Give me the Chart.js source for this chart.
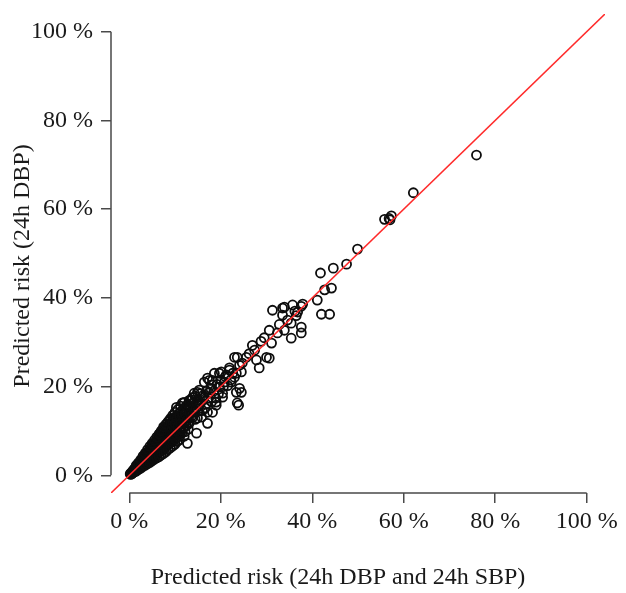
<!DOCTYPE html>
<html>
<head>
<meta charset="utf-8">
<script src="https://cdn.jsdelivr.net/npm/chart.js@4"></script>
<style>
  html, body { margin: 0; padding: 0; background: #fff; }
  #wrap { width: 626px; height: 593px; }
</style>
</head>
<body>
<div id="wrap"><canvas id="chart" width="626" height="593"></canvas></div>
<script>
// Predicted risk (%), x = 24h DBP and 24h SBP, y = 24h DBP
const tickValues = [0, 20, 40, 60, 80, 100];
const axisMin = -4;
const axisMax = 104;
const xTitle = 'Predicted risk (24h DBP and 24h SBP)';
const yTitle = 'Predicted risk (24h DBP)';

// dense core near the origin
const coreLow = [
  [0.2,0.3],[0.3,0.2],[0.4,0.5],[0.5,0.3],[0.6,0.7],[0.6,0.4],[0.7,0.9],[0.8,0.6],[0.9,1.1],[0.9,0.7],
  [1.0,0.9],[1.1,1.4],[1.1,0.8],[1.2,1.1],[1.3,1.6],[1.3,0.9],[1.4,1.3],[1.5,1.9],[1.5,1.1],[1.6,1.5],
  [1.7,2.1],[1.7,1.2],[1.8,1.7],[1.9,2.4],[1.9,1.4],[2.0,2.0],[2.1,2.6],[2.1,1.5],[2.2,2.2],[2.3,2.9],
  [2.3,1.7],[2.4,2.4],[2.5,3.1],[2.5,1.9],[2.6,2.6],[2.7,3.3],[2.7,2.0],[2.8,2.8],[2.9,3.6],[2.9,2.2],
  [3.0,3.0],[1.5,2.2],[1.5,0.9],[2.0,2.8],[2.0,1.3],[2.5,3.5],[2.5,1.6]
];

const coreMid = [
  [3.1,3.9],[3.1,2.4],[3.2,3.2],[3.3,4.2],[3.3,2.6],[3.4,3.5],[3.5,4.5],[3.5,2.7],[3.6,3.7],[3.7,4.8],
  [3.7,2.9],[3.8,4.0],[3.9,5.0],[3.9,3.1],[4.0,4.2],[4.0,3.5],[4.1,5.3],[4.1,3.2],[4.2,4.6],[4.3,5.5],
  [4.3,3.4],[4.4,4.8],[4.4,3.9],[4.5,5.8],[4.5,3.5],[4.6,5.0],[4.7,6.1],[4.7,3.7],[4.8,5.2],[4.8,4.3],
  [4.9,6.3],[4.9,3.9],[5.0,5.5],[5.0,4.6],[5.1,6.6],[5.1,4.0],[5.2,5.7],[5.3,6.9],[5.3,4.2],[5.4,5.9],
  [5.4,4.9],[5.5,7.1],[5.5,4.3],[5.6,6.2],[5.7,7.4],[5.7,4.5],[5.8,6.4],[5.8,5.2],[5.9,7.6],[5.9,4.6],
  [6.0,6.6]
];

const coreHigh = [
  [6.1,7.9],[6.1,4.8],[6.2,6.9],[6.2,5.6],[6.3,8.2],[6.3,5.0],[6.4,7.1],[6.5,8.5],[6.5,5.2],[6.6,7.4],
  [6.6,6.0],[6.7,8.8],[6.7,5.3],[6.8,7.6],[6.8,9.5],[6.9,9.0],[6.9,5.5],[7.0,7.9],[7.0,6.4],[7.1,9.3],
  [7.1,5.7],[7.2,8.1],[7.3,9.6],[7.3,5.9],[7.4,8.4],[7.4,6.8],[7.5,9.8],[7.5,10.6],[7.5,6.0],[7.6,8.6],
  [7.7,10.1],[7.7,6.2],[7.8,8.9],[7.8,7.2],[7.9,10.4],[7.9,6.4],[8.0,9.1],[8.1,10.6],[8.1,6.6],[8.2,9.4],
  [8.2,7.6],[8.3,10.9],[8.3,10.8],[8.3,6.8],[8.4,9.6],[8.5,11.1],[8.5,7.0],[8.6,9.9],[8.6,8.0],[8.7,11.4],
  [8.7,7.1],[8.8,10.1],[8.8,12.4],[8.9,11.6],[8.9,7.3],[9.0,10.4],[9.0,8.4]
];

// outer rim of the dense band, both sides of the line
const coreEdges = [
  [3.0,4.3],[3.0,2.0],[3.5,5.0],[3.5,2.3],[4.0,5.8],[4.0,2.6],[4.5,6.5],[4.5,2.9],[5.0,7.2],[5.0,3.3],
  [5.5,7.9],[5.5,3.6],[6.0,8.6],[6.0,3.9],[6.5,9.3],[6.5,4.2],[7.0,10.0],[7.0,4.6],[7.5,10.9],[7.5,4.9],
  [8.0,11.5],[8.0,5.3],[8.5,12.1],[8.5,5.8],[9.0,12.8],[9.0,6.2],[9.5,13.5],[9.5,6.6],[10.0,14.2],[10.0,7.0],
  [10.6,14.8],[10.5,7.6],[11.2,15.6],[11.0,8.0],[12.0,16.4],[12.0,8.8]
];

const bandOuter = [
  [9.1,11.9],[9.2,7.5],[9.3,10.6],[9.4,12.2],[9.5,8.8],[9.5,7.8],[9.6,11.0],[9.7,12.6],[9.8,9.2],[9.9,11.4],
  [10.0,13.0],[10.0,8.2],[10.1,10.4],[10.2,12.0],[10.3,13.4],[10.3,15.3],[10.4,9.6],[10.5,11.8],[10.6,8.6],
  [10.7,12.6],[10.8,13.9],[10.9,10.2],[11.0,12.2],[11.1,9.0],[11.2,14.3],[11.3,11.0],[11.4,13.0],[11.5,9.6],
  [11.6,12.2],[11.6,16.3],[11.7,14.7],[11.8,10.6],[11.9,13.5],[12.0,11.8],[12.1,15.0],[12.2,9.8],[12.3,12.8],
  [12.4,14.2],[12.5,11.2],[12.6,15.5],[12.7,7.2],[12.8,13.4],[12.9,10.4],[13.0,14.6],[13.1,16.9],[13.1,11.7]
];

// extra fill where the band starts to thin out
const bandFill = [
  [9.2,10.0],[9.4,9.0],[9.6,12.0],[9.8,10.6],[10.0,11.6],[10.2,9.2],[10.4,12.8],[10.6,11.0],[10.8,9.4],
  [11.0,13.4],[11.2,11.6],[11.4,10.2],[11.6,14.0],[11.8,12.6],[12.0,10.8],[12.2,13.8],[12.4,15.6],[12.6,12.4],
  [12.8,16.0],[13.0,12.0],[13.2,14.0],[13.4,15.4],[13.6,17.0],[13.8,13.0],[14.0,16.4],[14.2,14.2],[14.4,17.8],
  [14.6,15.0],[15.0,17.0],[15.2,15.6],[15.6,18.4],[16.0,14.6],[16.4,17.6],[16.8,16.0],[17.4,18.6],[18.0,20.4]
];

const scatterMid = [
  [13.2,16.8],[13.5,13.2],[13.8,17.5],[14.0,15.0],[14.2,18.5],[14.4,12.6],[14.7,16.2],[14.7,9.5],[14.9,18.7],
  [14.9,12.9],[15.0,14.4],[15.3,19.2],[15.5,16.0],[15.8,13.1],[16.0,16.9],[16.2,18.0],[16.4,21.0],[16.6,15.2],
  [16.9,19.0],[17.1,14.2],[17.1,21.9],[17.1,11.7],[17.3,17.4],[17.5,21.4],[17.8,19.6],[18.0,16.6],[18.2,21.4],
  [18.2,14.2],[18.5,19.0],[18.6,23.0],[18.9,17.4],[19.0,15.8],[19.0,16.5],[19.2,20.5],[19.5,18.4],[19.7,23.0],
  [19.7,19.9],[20.0,21.5],[20.1,23.3],[20.4,17.6],[20.4,18.5],[20.6,20.0],[20.8,21.0],[21.0,22.2],[21.2,22.6],
  [21.5,20.2],[21.9,24.2],[21.9,23.7],[22.2,21.5],[22.3,21.0],[22.6,23.0],[23.0,22.1],[23.0,26.6],[23.4,23.0],
  [23.4,18.7],[23.6,16.3],[23.6,26.6],[23.9,15.8],[24.1,19.6],[24.1,24.8],[24.5,23.3],[24.5,18.7],[24.7,25.3]
];

const scatterHigh = [
  [25.6,26.6],[26.2,27.4],[26.9,29.3],[27.4,28.2],[27.8,26.0],[28.4,24.2],[28.8,30.2],[29.5,31.0],[30.0,26.6],
  [30.6,26.4],[30.6,32.7],[31.1,29.8],[31.3,37.2],[32.4,32.1],[32.8,34.0],[33.5,36.1],[33.5,37.7],[33.9,32.7],
  [33.9,37.9],[34.6,35.0],[35.4,34.3],[35.4,30.9],[35.7,38.4],[36.2,37.0],[36.5,36.0],[36.8,36.8],[37.6,38.1],
  [37.6,33.4],[37.6,32.1],[37.9,38.6]
];

const extremes = [
  [41.1,39.5],[41.8,45.6],[42.0,36.3],[42.7,41.8],[43.8,36.3],[44.2,42.2],[44.6,46.7],[47.5,47.6],[49.9,51.0],
  [55.8,57.7],[56.8,57.9],[57.3,58.5],[57.0,57.6],[62.1,63.7],[75.9,72.2]
];

const allPoints = [...coreLow, ...coreMid, ...coreHigh, ...coreEdges, ...bandOuter, ...bandFill,
  ...scatterMid, ...scatterHigh, ...extremes].map(([x, y]) => ({ x, y }));

const FONT = 'Liberation Serif';
const TEXT = '#1a1a1a';
const AXIS = '#4a4a4a';

// R-style axis lines that only span the tick range, plus axis titles
const axisLines = {
  id: 'axisLines',
  afterDraw(chart) {
    const { ctx, chartArea, scales } = chart;
    ctx.save();
    ctx.strokeStyle = AXIS;
    ctx.lineWidth = 1.5;
    ctx.beginPath();
    ctx.moveTo(scales.x.getPixelForValue(0), chartArea.bottom);
    ctx.lineTo(scales.x.getPixelForValue(100), chartArea.bottom);
    ctx.moveTo(chartArea.left, scales.y.getPixelForValue(0));
    ctx.lineTo(chartArea.left, scales.y.getPixelForValue(100));
    ctx.stroke();

    ctx.fillStyle = TEXT;
    ctx.font = `24px "${FONT}"`;
    ctx.textAlign = 'center';
    ctx.textBaseline = 'middle';
    ctx.fillText(xTitle, 338, 578);
    ctx.translate(23, 266);
    ctx.rotate(-Math.PI / 2);
    ctx.fillText(yTitle, 0, 0);
    ctx.restore();
  }
};

const tickOpts = {
  color: TEXT,
  font: { family: FONT, size: 24 },
  callback: v => v + ' %'
};

const gridOpts = {
  display: true,
  drawOnChartArea: false,
  drawTicks: true,
  tickLength: 10,
  color: AXIS,
  lineWidth: 1.5
};

new Chart(document.getElementById('chart'), {
  data: {
    datasets: [
      {
        type: 'line',
        data: [{ x: axisMin, y: axisMin }, { x: axisMax, y: axisMax }],
        borderColor: '#ff2a2a',
        borderWidth: 1.6,
        pointRadius: 0,
        fill: false
      },
      {
        type: 'scatter',
        data: allPoints,
        pointStyle: 'circle',
        pointRadius: 4.5,
        pointBorderWidth: 1.8,
        pointBorderColor: '#0d0d0d',
        pointBackgroundColor: 'rgba(0,0,0,0)'
      }
    ]
  },
  options: {
    responsive: false,
    animation: false,
    layout: { padding: { top: 14, right: 21, left: 0, bottom: 0 } },
    plugins: {
      legend: { display: false },
      tooltip: { enabled: false }
    },
    scales: {
      x: {
        type: 'linear',
        min: axisMin,
        max: axisMax,
        afterBuildTicks: s => { s.ticks = tickValues.map(v => ({ value: v })); },
        afterFit: s => { s.height = 100; s.paddingLeft = 0; s.paddingRight = 0; },
        ticks: { ...tickOpts, padding: 4, maxRotation: 0 },
        grid: gridOpts,
        border: { display: false }
      },
      y: {
        type: 'linear',
        min: axisMin,
        max: axisMax,
        afterBuildTicks: s => { s.ticks = tickValues.map(v => ({ value: v })); },
        afterFit: s => { s.width = 111; s.paddingTop = 0; s.paddingBottom = 0; },
        ticks: { ...tickOpts, padding: 8 },
        grid: gridOpts,
        border: { display: false }
      }
    }
  },
  plugins: [axisLines]
});
</script>
</body>
</html>
